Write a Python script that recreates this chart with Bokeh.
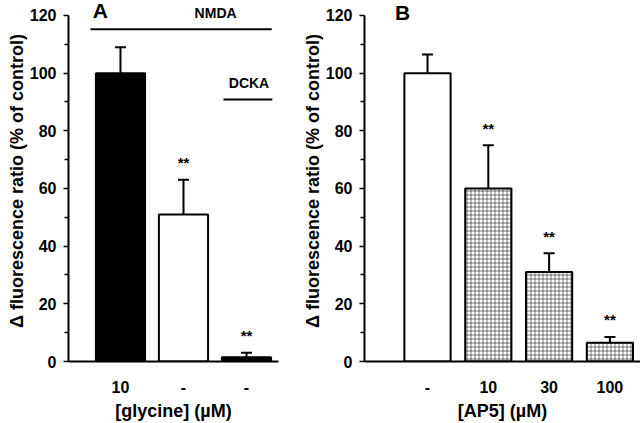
from bokeh.plotting import figure
from bokeh.layouts import row
from bokeh.models import ColumnDataSource, FixedTicker, Label, Range1d
from bokeh.core.properties import value
from bokeh.embed import file_html
from bokeh.resources import INLINE

# ---- data ----
glycine_labels = ["10", "-", "-"]
a_means = [100, 51, 1.5]
a_sem = [9, 12, 1.5]
a_fill = ["black", "white", "black"]
a_sig = ["", "**", "**"]

ap5_labels = ["-", "10", "30", "100"]
b_means = [100, 60, 31, 6.5]
b_sem = [6.5, 15, 6.5, 2]
b_fill = ["white", "white", "white", "white"]
b_hatch = [" ", "+", "+", "+"]
b_sig = ["", "**", "**", "**"]

y_ticks = [0, 20, 40, 60, 80, 100, 120]
y_minor = [10, 30, 50, 70, 90, 110]

FONT = "Liberation Sans"
YLABEL = "\u0394 fluorescence ratio (% of control)"
Y_END = 125.2


def panel(labels, means, sem, fills, hatches, sig, xlabel, xr, bar_w,
          width, bl, br):
    n = len(labels)
    xs = list(range(1, n + 1))
    tops = [m + s for m, s in zip(means, sem)]
    src = ColumnDataSource(dict(x=xs, top=means, fill=fills, hatch=hatches,
                                etop=tops, sig=sig,
                                sy=[t + 3 for t in tops]))
    p = figure(width=width, height=423, x_range=Range1d(*xr),
               y_range=Range1d(0, Y_END), output_backend="svg",
               toolbar_location=None, min_border_left=bl,
               min_border_right=br, min_border_top=0, min_border_bottom=62)
    p.outline_line_color = None
    p.xgrid.grid_line_color = None
    p.ygrid.grid_line_color = None
    p.background_fill_color = "white"
    p.border_fill_color = "white"

    p.vbar(x="x", top="top", bottom=0, width=bar_w, fill_color="fill",
           line_color="black", line_width=2, hatch_pattern="hatch",
           hatch_scale=4, hatch_weight=0.6, hatch_color="#222222",
           source=src)
    p.segment(x0="x", y0="top", x1="x", y1="etop", line_color="black",
              line_width=2, source=src)
    p.scatter(x="x", y="etop", marker="dash", size=11, line_width=2,
              line_color="black", source=src)
    p.text(x="x", y="sy", text="sig", text_align="center",
           text_baseline="bottom", text_font=value(FONT),
           text_font_size="15px", text_font_style="bold",
           text_color="black", source=src)

    xa = p.xaxis[0]
    xa.ticker = FixedTicker(ticks=xs)
    xa.major_label_overrides = {x: l for x, l in zip(xs, labels)}
    xa.major_tick_line_color = None
    xa.minor_tick_line_color = None
    xa.axis_line_width = 2
    xa.axis_line_color = "black"
    xa.major_label_standoff = 13
    xa.major_label_text_font = FONT
    xa.major_label_text_font_style = "bold"
    xa.major_label_text_font_size = "16px"
    xa.major_label_text_color = "black"
    xa.axis_label = xlabel
    xa.axis_label_text_font = FONT
    xa.axis_label_text_font_style = "bold"
    xa.axis_label_text_font_size = "18px"
    xa.axis_label_standoff = 5
    xa.axis_label_text_color = "black"

    ya = p.yaxis[0]
    ya.ticker = FixedTicker(ticks=y_ticks, minor_ticks=y_minor)
    ya.bounds = (0, 120)
    ya.axis_line_width = 2
    ya.axis_line_color = "black"
    ya.major_tick_in = 0
    ya.major_tick_out = 5
    ya.minor_tick_in = 0
    ya.minor_tick_out = 4
    ya.major_tick_line_width = 1.5
    ya.minor_tick_line_width = 1.5
    ya.major_label_standoff = 7
    ya.major_label_text_font = FONT
    ya.major_label_text_font_style = "bold"
    ya.major_label_text_font_size = "16px"
    ya.major_label_text_color = "black"
    ya.axis_label = YLABEL
    ya.axis_label_text_font = FONT
    ya.axis_label_text_font_style = "bold"
    ya.axis_label_text_font_size = "18px"
    ya.axis_label_standoff = 0
    ya.axis_label_text_color = "black"
    return p


pa = panel(glycine_labels, a_means, a_sem, a_fill, [" "] * 3, a_sig,
           "[glycine] (\u00b5M)", (0.175, 3.508), 0.78, 296, 68, 18)
pb = panel(ap5_labels, b_means, b_sem, b_fill, b_hatch, b_sig,
           "[AP5] (\u00b5M)", (-0.036, 4.503), 0.76, 344, 68, 0)

# annotations, panel A
nmda_x = [0.524, 3.40]
nmda_y = 115.2
dcka_x = [2.635, 3.41]
dcka_y = 90.9
pa.line(x=nmda_x, y=[nmda_y, nmda_y], line_color="black", line_width=2)
pa.line(x=dcka_x, y=[dcka_y, dcka_y], line_color="black", line_width=2)
for p, txt, x, y, sz in [(pa, "A", 0.68, 121.9, "21px"),
                         (pa, "NMDA", 2.51, 120.9, "14px"),
                         (pa, "DCKA", 3.04, 96.6, "14px"),
                         (pb, "B", 0.59, 121.0, "21px")]:
    p.add_layout(Label(x=x, y=y, text=txt, text_align="center",
                       text_baseline="middle", text_font=FONT,
                       text_font_style="bold", text_font_size=sz,
                       text_color="black"))

layout = row(pa, pb)
open("out.html", "w").write(file_html(layout, INLINE))
